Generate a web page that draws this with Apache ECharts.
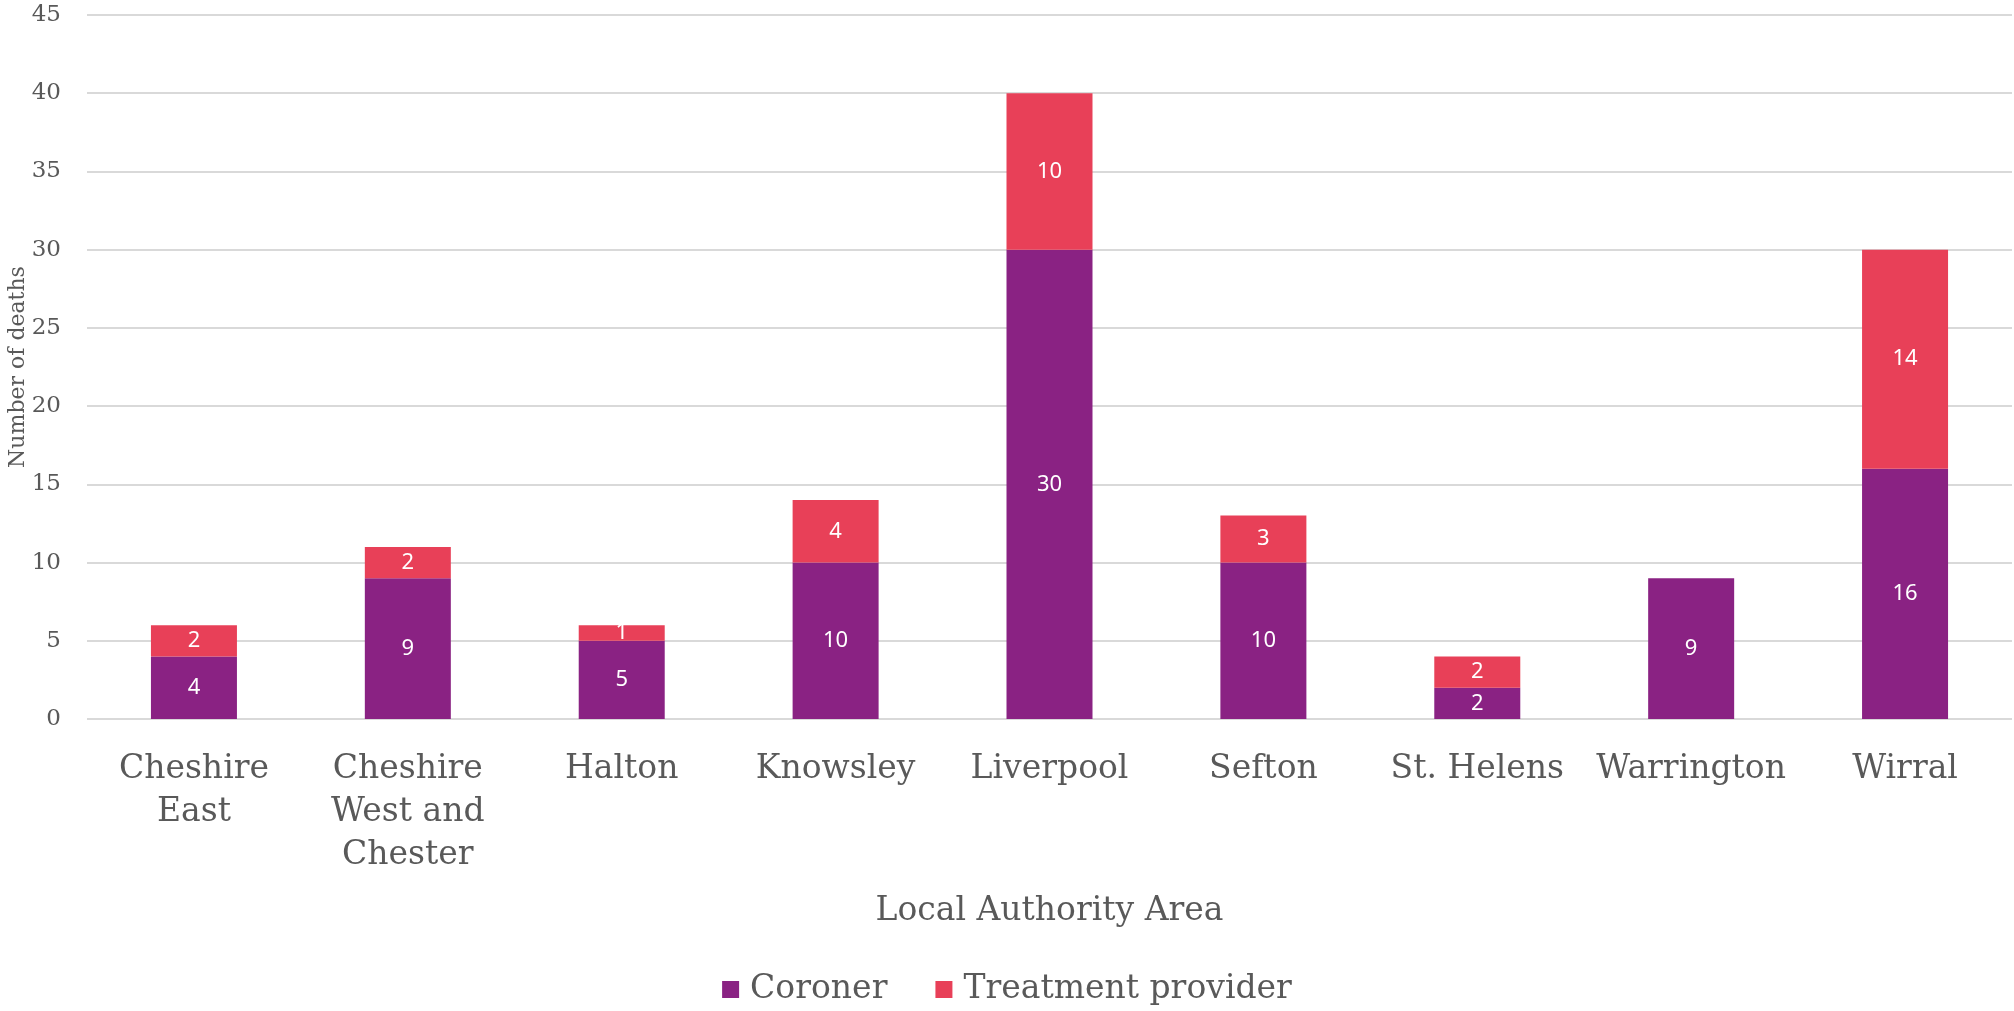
<!DOCTYPE html>
<html lang="en">
  <head>
    <meta charset="UTF-8" />
    <title>Deaths by local authority area</title>
    <script src="https://cdn.jsdelivr.net/npm/echarts@6/dist/echarts.min.js"></script>
    <style>
      html, body { margin: 0; padding: 0; background: #fff; }
      #deathsChart { width: 2014px; height: 1011px; }
    </style>
  </head>
  <body>
    <div id="deathsChart"></div>
    <script>
      var areaNames = ['Cheshire East', 'Cheshire West and Chester', 'Halton', 'Knowsley', 'Liverpool', 'Sefton', 'St. Helens', 'Warrington', 'Wirral'];
      var coronerValues = [4, 9, 5, 10, 30, 10, 2, 9, 16];
      var providerValues = [2, 2, 1, 4, 10, 3, 2, 0, 14];
      var seriesNames = ['Coroner', 'Treatment provider'];
      var seriesColors = ['#8a2283', '#e84058'];

      var chartFont = "'DejaVu Serif', serif";
      var textColor = '#595959';

      drawDeathsChart();

      // 카테고리 이름 줄바꿈 (한 줄 최대 10자)
      function wrapName(name) {
        var words = name.split(' ');
        var lines = [];
        var line = '';
        for (var i = 0; i < words.length; i++) {
          var next = line ? line + ' ' + words[i] : words[i];
          if (line && next.length > 10) {
            lines.push(line);
            line = words[i];
          } else {
            line = next;
          }
        }
        lines.push(line);
        return lines.join('\n');
      }

      function drawDeathsChart() {
        var chartEl = document.getElementById('deathsChart');
        var chart = echarts.init(chartEl);

        // 값이 0이면 라벨 숨김
        var barLabel = {
          show: true,
          position: 'inside',
          color: '#fff',
          fontSize: 22,
          fontFamily: "'Noto Sans', sans-serif",
          formatter: function (params) {
            return params.value === 0 ? '' : params.value;
          }
        };

        var chartOption = {
          animation: false,
          grid: {
            left: 87,
            right: 2,
            top: 15,
            bottom: 292,
            outerBoundsMode: 'none'
          },
          legend: {
            bottom: 0,
            left: 'center',
            itemGap: 48,
            itemWidth: 17,
            itemHeight: 17,
            icon: 'rect',
            selectedMode: false,
            textStyle: {
              color: textColor,
              fontSize: 33,
              fontFamily: chartFont,
              padding: [0, 0, 0, 6]
            },
            data: seriesNames
          },
          xAxis: {
            type: 'category',
            data: areaNames,
            name: 'Local Authority Area',
            nameLocation: 'middle',
            nameGap: 176,
            nameMoveOverlap: false,
            nameTextStyle: {
              color: textColor,
              fontSize: 33,
              fontFamily: chartFont
            },
            axisTick: { show: false },
            axisLine: { show: false },
            axisLabel: {
              interval: 0,
              margin: 29,
              color: textColor,
              fontSize: 33,
              lineHeight: 43,
              fontFamily: chartFont,
              formatter: wrapName
            }
          },
          yAxis: {
            type: 'value',
            min: 0,
            max: 45,
            interval: 5,
            name: 'Number of deaths',
            nameLocation: 'middle',
            nameGap: 58,
            nameMoveOverlap: false,
            nameTextStyle: {
              color: textColor,
              fontSize: 22,
              fontFamily: chartFont
            },
            axisLabel: {
              color: textColor,
              fontSize: 23,
              margin: 26,
              fontFamily: chartFont
            },
            splitLine: {
              lineStyle: { color: '#d9d9d9', width: 2 }
            }
          },
          series: [
            {
              name: seriesNames[0],
              type: 'bar',
              stack: 'deaths',
              barWidth: 86,
              color: seriesColors[0],
              label: barLabel,
              data: coronerValues
            },
            {
              name: seriesNames[1],
              type: 'bar',
              stack: 'deaths',
              barWidth: 86,
              color: seriesColors[1],
              label: barLabel,
              data: providerValues
            }
          ]
        };

        chart.setOption(chartOption);
      }
    </script>
  </body>
</html>
